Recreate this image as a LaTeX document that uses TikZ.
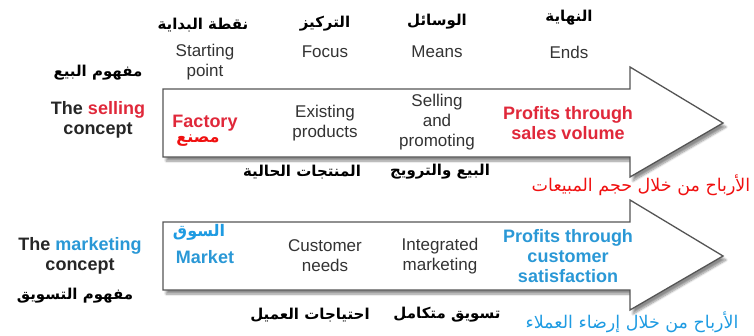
\documentclass[tikz,border=0pt]{standalone}
\usepackage{fontspec}
\setmainfont{Liberation Sans}
\newfontfamily\arabicfont[Script=Arabic]{DejaVu Sans}
\TeXXeTstate=1
\usetikzlibrary{shadows.blur}
\definecolor{sellred}{HTML}{E0283A}
\definecolor{arred}{HTML}{F01010}
\definecolor{mktblue}{HTML}{2A98D6}
\definecolor{arblue}{HTML}{1E9BE2}
\definecolor{txt}{HTML}{333333}
\definecolor{edge}{HTML}{555555}
\tikzset{
  arrowbox/.style={draw=edge, line width=1.3pt, fill=white, line join=miter,
    blur shadow={shadow xshift=3pt, shadow yshift=-4pt, shadow blur steps=8, shadow opacity=45}},
  en/.style={font=\fontsize{17}{20}\selectfont, text=txt, align=center, inner sep=0pt},
  enb/.style={font=\bfseries\fontsize{18}{20}\selectfont, text=black!85, align=center, inner sep=0pt},
  ar/.style={font=\arabicfont\bfseries\fontsize{15}{18}\selectfont, text=black, inner sep=0pt},
  arcol/.style={font=\arabicfont\bfseries\fontsize{16}{18}\selectfont, inner sep=0pt},
  arthin/.style={font=\arabicfont\fontsize{17.5}{20}\selectfont, inner sep=0pt},
}
\begin{document}
\begin{tikzpicture}[x=1pt,y=-1pt]
\useasboundingbox (0,0) rectangle (754,335);
% arrows
\draw[arrowbox] (163,89) -- (630,89) -- (630,67) -- (723,123) -- (630,177) -- (630,157) -- (163,157) -- cycle;
\draw[arrowbox] (163,222) -- (630,222) -- (630,200) -- (723,256) -- (630,310) -- (630,290) -- (163,290) -- cycle;
% headers
\node[ar] (h1ar) at (203,25) {\beginR نقطة البداية\endR};
\node[en] (h1) at (205,62) {Starting\\point};
\node[ar] (h2ar) at (325,24) {\beginR التركيز\endR};
\node[en] (h2) at (325,52) {Focus};
\node[ar] (h3ar) at (437,22) {\beginR الوسائل\endR};
\node[en] (h3) at (437,52) {Means};
\node[ar] (h4ar) at (569,18) {\beginR النهاية\endR};
\node[en] (h4) at (569,52) {Ends};
% selling concept
\node[ar] (sconar) at (98,73) {\beginR مفهوم البيع\endR};
\node[enb] (scon) at (98,120) {The \textcolor{sellred}{selling}\\concept};
\node[enb, text=sellred] (fact) at (205,123) {Factory};
\node[arcol, text=arred] (factar) at (198,141) {\beginR مصنع\endR};
\node[en] (exist) at (325,123) {Existing\\products};
\node[en] (sellp) at (437,122) {Selling\\and\\promoting};
\node[enb, text=sellred] (profs) at (568,123) {Profits through\\sales volume};
\node[ar] (existar) at (302,172) {\beginR المنتجات الحالية\endR};
\node[ar] (sellpar) at (440,172) {\beginR البيع والترويج\endR};
\node[arthin, text=arred] (profsar) at (641,185) {\beginR الأرباح من خلال حجم المبيعات\endR};
% marketing concept
\node[enb] (mcon) at (80,256) {The \textcolor{mktblue}{marketing}\\concept};
\node[ar] (mconar) at (75,296) {\beginR مفهوم التسويق\endR};
\node[arcol, text=arblue] (mktar) at (199,232) {\beginR السوق\endR};
\node[enb, text=mktblue] (mkt) at (205,257) {Market};
\node[en] (needs) at (325,256) {Customer\\needs};
\node[en] (integ) at (440,256) {Integrated\\marketing};
\node[enb, text=mktblue] (profm) at (568,256) {Profits through\\customer\\satisfaction};
\node[ar] (needsar) at (310,315) {\beginR احتياجات العميل\endR};
\node[ar] (integar) at (447,315) {\beginR تسويق متكامل\endR};
\node[arthin, text=arblue] (profmar) at (632,322) {\beginR الأرباح من خلال إرضاء العملاء\endR};
\end{tikzpicture}
\end{document}
